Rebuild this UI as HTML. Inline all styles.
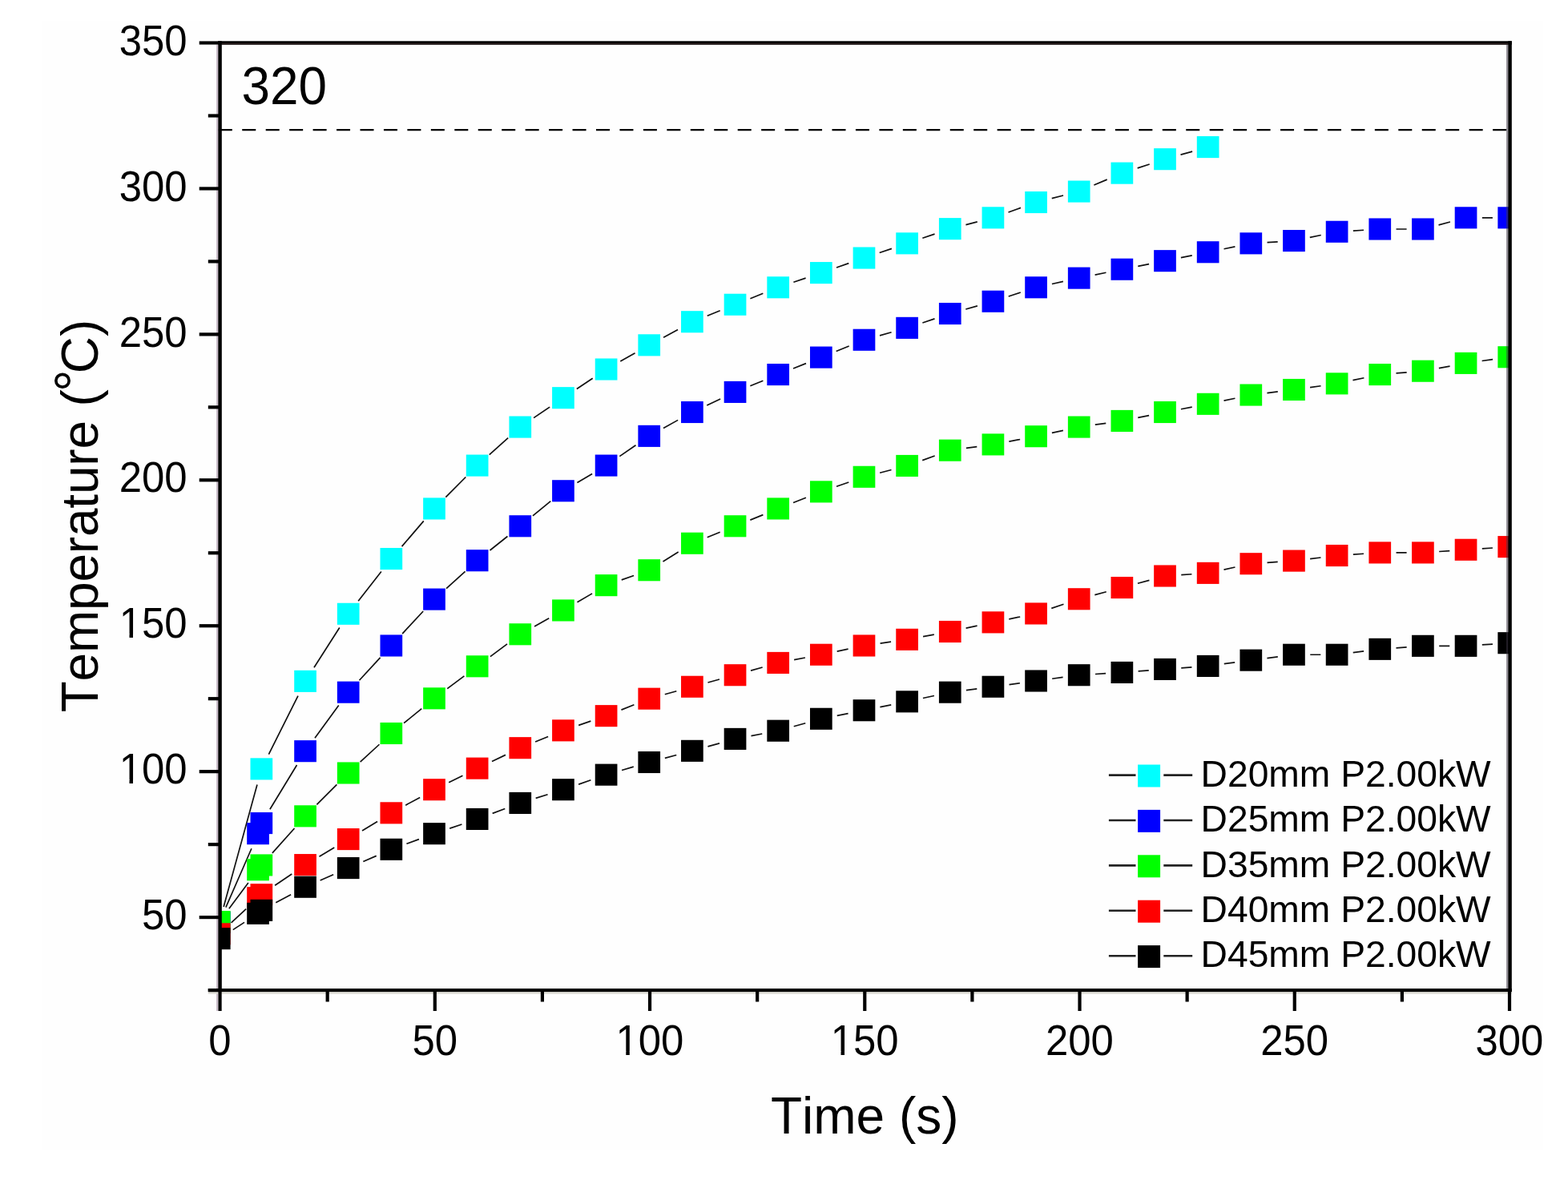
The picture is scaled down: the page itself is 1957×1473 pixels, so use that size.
<!DOCTYPE html>
<html><head><meta charset="utf-8"><title>Temperature vs Time</title>
<style>
html,body{margin:0;padding:0;background:#fff;}
body{width:1957px;height:1473px;overflow:hidden;}
svg{display:block;}
text{font-family:"Liberation Sans",Arial,Helvetica,sans-serif;fill:#000;font-kerning:none;}
</style></head><body>
<svg width="1957" height="1473" viewBox="0 0 1957 1473">
<defs>
<clipPath id="plot"><rect x="274.55" y="53.5" width="1609.95" height="1182.55"/></clipPath>
</defs>
<rect x="0" y="0" width="1957" height="1473" fill="#ffffff"/>
<rect x="53" y="26" width="1873" height="1409" fill="#fefefe"/>
<line x1="272.8" y1="162.1" x2="1882" y2="162.1" stroke="#000" stroke-width="2.2" stroke-dasharray="17 12.45"/>
<g clip-path="url(#plot)">
<path d="M279.12 1132.06L320.96 979.46M335.4 941.72L371.97 868.52M391.97 833.25L423.77 783.42M447.18 750.3L475.86 713.54M501.56 682.12L528.78 650.36M556.32 620.57L581.31 595.48M610.76 567.56L634.16 546.61M666.09 521.67L686.14 508.08M719.84 485.45L739.68 472.26M774.27 451.07L792.54 440.78M828.08 421.14L846.04 411.4M882.73 394.17L898.68 387.79M936.38 372.71L952.33 366.32M990.4 352.26L1005.6 347.11M1044.01 333.95L1059.29 328.67M1097.7 315.51L1112.9 310.36M1151.35 297.32L1166.55 292.16M1205.43 280.58L1219.76 276.88M1258.52 264.95L1273.97 259.4M1312.76 247.59L1327.03 244.01M1365.38 231.09L1381.7 224.12M1419.67 209.86L1434.71 204.96M1473.55 193.18L1488.12 189.08" stroke="#111" stroke-width="1.7" fill="none"/>
<g fill="#00ffff"><rect x="259.9" y="1138.08" width="27.7" height="27.1"/><rect x="312.48" y="946.33" width="27.7" height="27.1"/><rect x="367.2" y="836.81" width="27.7" height="27.1"/><rect x="420.84" y="752.75" width="27.7" height="27.1"/><rect x="474.49" y="683.98" width="27.7" height="27.1"/><rect x="528.14" y="621.4" width="27.7" height="27.1"/><rect x="581.79" y="567.55" width="27.7" height="27.1"/><rect x="635.44" y="519.52" width="27.7" height="27.1"/><rect x="689.09" y="483.13" width="27.7" height="27.1"/><rect x="742.74" y="447.47" width="27.7" height="27.1"/><rect x="796.38" y="417.27" width="27.7" height="27.1"/><rect x="850.03" y="388.17" width="27.7" height="27.1"/><rect x="903.68" y="366.7" width="27.7" height="27.1"/><rect x="957.33" y="345.23" width="27.7" height="27.1"/><rect x="1010.98" y="327.04" width="27.7" height="27.1"/><rect x="1064.63" y="308.48" width="27.7" height="27.1"/><rect x="1118.27" y="290.29" width="27.7" height="27.1"/><rect x="1171.92" y="272.09" width="27.7" height="27.1"/><rect x="1225.57" y="258.27" width="27.7" height="27.1"/><rect x="1279.22" y="238.98" width="27.7" height="27.1"/><rect x="1332.87" y="225.52" width="27.7" height="27.1"/><rect x="1386.52" y="202.6" width="27.7" height="27.1"/><rect x="1440.16" y="185.13" width="27.7" height="27.1"/><rect x="1493.81" y="170.03" width="27.7" height="27.1"/></g>
<path d="M281.87 1132.67L313.91 1059.26M336.88 1010.22L370.49 955.02M393.01 921.29L422.73 880.58M448.45 849.26L474.59 820.89M502.15 791.08L528.19 763M557.07 734.51L580.57 713.32M611.49 687.03L633.44 669.47M664.98 643.9L687.24 625.63M720.42 602.44L739.1 591.42M773.33 569.63L793.49 555.82M827.97 534.48L846.14 524.38M882.27 505.91L899.14 498.01M936.33 481.75L952.38 475.23M990.03 460.03L1005.98 453.65M1043.63 438.45L1059.67 431.93M1098.03 418.84L1112.57 414.8M1151.39 402.95L1166.51 397.93M1205.3 385.97L1219.9 381.81M1258.72 369.96L1273.77 365.06M1312.91 354.47L1326.88 351.44M1366.61 343.09L1380.47 340.27M1420.28 332.3L1434.09 329.59M1473.91 321.62L1487.77 318.8M1527.55 310.71L1541.42 307.88M1581.57 302.6L1594.7 301.8M1634.82 296.39L1648.74 293.46M1688.87 288.05L1701.99 287.24M1742.56 286.01L1755.6 286.01M1795.53 280.82L1809.93 277.01M1849.85 271.82L1862.9 271.82" stroke="#111" stroke-width="1.7" fill="none"/>
<g fill="#0000ff"><rect x="259.9" y="1137.72" width="27.7" height="27.1"/><rect x="308.18" y="1027.11" width="27.7" height="27.1"/><rect x="312.48" y="1014.01" width="27.7" height="27.1"/><rect x="367.2" y="924.13" width="27.7" height="27.1"/><rect x="420.84" y="850.63" width="27.7" height="27.1"/><rect x="474.49" y="792.42" width="27.7" height="27.1"/><rect x="528.14" y="734.56" width="27.7" height="27.1"/><rect x="581.79" y="686.17" width="27.7" height="27.1"/><rect x="635.44" y="643.23" width="27.7" height="27.1"/><rect x="689.09" y="599.21" width="27.7" height="27.1"/><rect x="742.74" y="567.55" width="27.7" height="27.1"/><rect x="796.38" y="530.8" width="27.7" height="27.1"/><rect x="850.03" y="500.96" width="27.7" height="27.1"/><rect x="903.68" y="475.86" width="27.7" height="27.1"/><rect x="957.33" y="454.02" width="27.7" height="27.1"/><rect x="1010.98" y="432.56" width="27.7" height="27.1"/><rect x="1064.63" y="410.72" width="27.7" height="27.1"/><rect x="1118.27" y="395.81" width="27.7" height="27.1"/><rect x="1171.92" y="377.98" width="27.7" height="27.1"/><rect x="1225.57" y="362.7" width="27.7" height="27.1"/><rect x="1279.22" y="345.23" width="27.7" height="27.1"/><rect x="1332.87" y="333.59" width="27.7" height="27.1"/><rect x="1386.52" y="322.67" width="27.7" height="27.1"/><rect x="1440.16" y="312.12" width="27.7" height="27.1"/><rect x="1493.81" y="301.2" width="27.7" height="27.1"/><rect x="1547.46" y="290.29" width="27.7" height="27.1"/><rect x="1601.11" y="287.01" width="27.7" height="27.1"/><rect x="1654.76" y="275.73" width="27.7" height="27.1"/><rect x="1708.41" y="272.46" width="27.7" height="27.1"/><rect x="1762.05" y="272.46" width="27.7" height="27.1"/><rect x="1815.7" y="258.27" width="27.7" height="27.1"/><rect x="1869.35" y="258.27" width="27.7" height="27.1"/></g>
<path d="M285.88 1134.27L309.9 1102.05M339.87 1064.83L367.51 1033.95M395.37 1004.44L420.37 979.35M449.62 951.21L473.42 929.25M504.09 902.67L526.25 884.64M558.26 859.69L579.37 843.94M611.91 819.66L633.02 803.91M667.03 781.91L685.2 771.81M720.47 751.71L739.05 740.87M775.73 723.89L791.09 718.48M827.46 700.98L846.66 689M882.73 670.71L898.68 664.32M936.33 649.13L952.38 642.6M990.07 627.52L1005.94 621.28M1044.01 607.21L1059.29 601.93M1098.13 590.22L1112.47 586.53M1151.23 574.6L1166.67 569.05M1205.89 559.45L1219.3 557.63M1259.36 551.11L1273.12 548.5M1312.91 540.41L1326.88 537.38M1366.81 530.21L1380.27 528.29M1420.26 521.38L1434.12 518.56M1473.96 510.73L1487.72 508.11M1527.53 500.15L1541.44 497.22M1581.46 490.58L1594.81 488.96M1635.06 483.63L1648.51 481.72M1688.47 474.68L1702.39 471.75M1742.49 465.93L1755.67 464.85M1795.87 459.55L1809.58 457.04M1849.65 450.52L1863.1 448.61" stroke="#111" stroke-width="1.7" fill="none"/>
<g fill="#00ff00"><rect x="259.9" y="1136.99" width="27.7" height="27.1"/><rect x="308.18" y="1072.23" width="27.7" height="27.1"/><rect x="312.48" y="1066.4" width="27.7" height="27.1"/><rect x="367.2" y="1005.27" width="27.7" height="27.1"/><rect x="420.84" y="951.42" width="27.7" height="27.1"/><rect x="474.49" y="901.94" width="27.7" height="27.1"/><rect x="528.14" y="858.27" width="27.7" height="27.1"/><rect x="581.79" y="818.25" width="27.7" height="27.1"/><rect x="635.44" y="778.23" width="27.7" height="27.1"/><rect x="689.09" y="748.39" width="27.7" height="27.1"/><rect x="742.74" y="717.1" width="27.7" height="27.1"/><rect x="796.38" y="698.18" width="27.7" height="27.1"/><rect x="850.03" y="664.7" width="27.7" height="27.1"/><rect x="903.68" y="643.23" width="27.7" height="27.1"/><rect x="957.33" y="621.4" width="27.7" height="27.1"/><rect x="1010.98" y="600.3" width="27.7" height="27.1"/><rect x="1064.63" y="581.74" width="27.7" height="27.1"/><rect x="1118.27" y="567.91" width="27.7" height="27.1"/><rect x="1171.92" y="548.63" width="27.7" height="27.1"/><rect x="1225.57" y="541.35" width="27.7" height="27.1"/><rect x="1279.22" y="531.16" width="27.7" height="27.1"/><rect x="1332.87" y="519.52" width="27.7" height="27.1"/><rect x="1386.52" y="511.88" width="27.7" height="27.1"/><rect x="1440.16" y="500.96" width="27.7" height="27.1"/><rect x="1493.81" y="490.77" width="27.7" height="27.1"/><rect x="1547.46" y="479.49" width="27.7" height="27.1"/><rect x="1601.11" y="472.95" width="27.7" height="27.1"/><rect x="1654.76" y="465.3" width="27.7" height="27.1"/><rect x="1708.41" y="454.02" width="27.7" height="27.1"/><rect x="1762.05" y="449.66" width="27.7" height="27.1"/><rect x="1815.7" y="439.83" width="27.7" height="27.1"/><rect x="1869.35" y="432.19" width="27.7" height="27.1"/></g>
<path d="M288.58 1151.96L307.2 1134.57M343.13 1105.31L364.25 1090.98M398.48 1069.19L417.26 1057.97M452.02 1036.99L471.02 1025.4M506.19 1005.14L524.15 995.39M560.18 976.71L577.45 968.16M613.98 950.45L630.95 942.39M668.09 926.03L684.13 919.5M722.16 905.33L737.36 900.18M775.43 886.11L791.39 879.73M829.79 866.75L844.32 862.71M883.47 851.95L897.94 848.03M937.05 837.15L951.65 832.99M991.12 823.65L1004.88 821.03M1044.69 813.07L1058.61 810.14M1098.57 803.1L1112.03 801.19M1152.09 794.67L1165.8 792.16M1205.61 784.19L1219.58 781.16M1259.31 772.81L1273.18 769.99M1312.29 759.42L1327.49 754.27M1366.34 742.56L1380.74 738.75M1419.96 728.24L1434.42 724.32M1474.27 717.63L1487.41 716.74M1527.5 711.06L1541.47 708.03M1581.56 702.35L1594.7 701.46M1635.11 697.62L1648.46 695.99M1688.86 692.16L1702 691.27M1742.56 689.89L1755.6 689.89M1796.16 688.52L1809.3 687.63M1849.81 684.88L1862.95 683.99" stroke="#111" stroke-width="1.7" fill="none"/>
<g fill="#ff0000"><rect x="259.9" y="1152.27" width="27.7" height="27.1"/><rect x="308.18" y="1107.16" width="27.7" height="27.1"/><rect x="312.48" y="1103.15" width="27.7" height="27.1"/><rect x="367.2" y="1066.04" width="27.7" height="27.1"/><rect x="420.84" y="1034.02" width="27.7" height="27.1"/><rect x="474.49" y="1001.27" width="27.7" height="27.1"/><rect x="528.14" y="972.16" width="27.7" height="27.1"/><rect x="581.79" y="945.6" width="27.7" height="27.1"/><rect x="635.44" y="920.13" width="27.7" height="27.1"/><rect x="689.09" y="898.3" width="27.7" height="27.1"/><rect x="742.74" y="880.11" width="27.7" height="27.1"/><rect x="796.38" y="858.64" width="27.7" height="27.1"/><rect x="850.03" y="843.72" width="27.7" height="27.1"/><rect x="903.68" y="829.17" width="27.7" height="27.1"/><rect x="957.33" y="813.88" width="27.7" height="27.1"/><rect x="1010.98" y="803.7" width="27.7" height="27.1"/><rect x="1064.63" y="792.42" width="27.7" height="27.1"/><rect x="1118.27" y="784.77" width="27.7" height="27.1"/><rect x="1171.92" y="774.95" width="27.7" height="27.1"/><rect x="1225.57" y="763.31" width="27.7" height="27.1"/><rect x="1279.22" y="752.39" width="27.7" height="27.1"/><rect x="1332.87" y="734.2" width="27.7" height="27.1"/><rect x="1386.52" y="720.01" width="27.7" height="27.1"/><rect x="1440.16" y="705.45" width="27.7" height="27.1"/><rect x="1493.81" y="701.81" width="27.7" height="27.1"/><rect x="1547.46" y="690.17" width="27.7" height="27.1"/><rect x="1601.11" y="686.53" width="27.7" height="27.1"/><rect x="1654.76" y="679.98" width="27.7" height="27.1"/><rect x="1708.41" y="676.34" width="27.7" height="27.1"/><rect x="1762.05" y="676.34" width="27.7" height="27.1"/><rect x="1815.7" y="672.71" width="27.7" height="27.1"/><rect x="1869.35" y="669.07" width="27.7" height="27.1"/></g>
<path d="M290.79 1160.61L305 1151.39M344.25 1126.82L363.12 1116.78M399.62 1099.05L416.12 1091.78M453.32 1075.51L469.72 1068.39M507.41 1053.32L522.93 1047.64M561.22 1034.14L576.42 1028.98M614.66 1015.37L630.27 1009.55M668.67 996.4L683.56 991.76M722.12 979.08L737.4 973.79M776.07 961.47L790.75 957.19M829.86 946.32L844.26 942.51M883.44 931.88L897.97 927.84M937.47 918.61L951.23 916M990.74 906.77L1005.27 902.73M1044.75 893.38L1058.56 890.66M1098.37 882.7L1112.23 879.87M1151.96 871.52L1165.93 868.49M1205.91 861.59L1219.29 859.86M1259.54 854.54L1272.95 852.72M1313.18 847.26L1326.6 845.44M1366.98 841.48L1380.1 840.68M1420.61 837.93L1433.77 836.95M1474.26 833.93L1487.42 832.95M1527.78 828.71L1541.19 826.89M1581.44 821.56L1594.82 819.84M1635.26 817.25L1648.31 817.25M1688.74 814.65L1702.12 812.93M1742.5 808.82L1755.66 807.84M1796.2 806.33L1809.25 806.33M1849.81 804.96L1862.95 804.06" stroke="#111" stroke-width="1.7" fill="none"/>
<g fill="#000000"><rect x="259.9" y="1158.1" width="27.7" height="27.1"/><rect x="308.18" y="1126.8" width="27.7" height="27.1"/><rect x="312.48" y="1122.8" width="27.7" height="27.1"/><rect x="367.2" y="1093.69" width="27.7" height="27.1"/><rect x="420.84" y="1070.04" width="27.7" height="27.1"/><rect x="474.49" y="1046.75" width="27.7" height="27.1"/><rect x="528.14" y="1027.11" width="27.7" height="27.1"/><rect x="581.79" y="1008.91" width="27.7" height="27.1"/><rect x="635.44" y="988.9" width="27.7" height="27.1"/><rect x="689.09" y="972.16" width="27.7" height="27.1"/><rect x="742.74" y="953.61" width="27.7" height="27.1"/><rect x="796.38" y="937.96" width="27.7" height="27.1"/><rect x="850.03" y="923.77" width="27.7" height="27.1"/><rect x="903.68" y="908.85" width="27.7" height="27.1"/><rect x="957.33" y="898.66" width="27.7" height="27.1"/><rect x="1010.98" y="883.74" width="27.7" height="27.1"/><rect x="1064.63" y="873.19" width="27.7" height="27.1"/><rect x="1118.27" y="862.28" width="27.7" height="27.1"/><rect x="1171.92" y="850.63" width="27.7" height="27.1"/><rect x="1225.57" y="843.72" width="27.7" height="27.1"/><rect x="1279.22" y="836.44" width="27.7" height="27.1"/><rect x="1332.87" y="829.17" width="27.7" height="27.1"/><rect x="1386.52" y="825.89" width="27.7" height="27.1"/><rect x="1440.16" y="821.89" width="27.7" height="27.1"/><rect x="1493.81" y="817.89" width="27.7" height="27.1"/><rect x="1547.46" y="810.61" width="27.7" height="27.1"/><rect x="1601.11" y="803.7" width="27.7" height="27.1"/><rect x="1654.76" y="803.7" width="27.7" height="27.1"/><rect x="1708.41" y="796.78" width="27.7" height="27.1"/><rect x="1762.05" y="792.78" width="27.7" height="27.1"/><rect x="1815.7" y="792.78" width="27.7" height="27.1"/><rect x="1869.35" y="789.14" width="27.7" height="27.1"/></g>
</g>
<rect x="270" y="55.7" width="2.3" height="1206.2" fill="#c9bcc9"/>
<rect x="259.8" y="1238.1" width="1627" height="2.6" fill="#dddcd5"/>
<rect x="1880" y="55.7" width="2.4" height="1178.3" fill="#3c3444" opacity="0.55"/>
<g fill="#000">
<rect x="272.3" y="51.3" width="1614.5" height="4.4"/>
<rect x="259.8" y="1234" width="1627" height="4.1"/>
<rect x="272.3" y="51.3" width="4.5" height="1186.8"/>
<rect x="1882.3" y="51.3" width="4.5" height="1186.8"/>
</g>
<rect x="276.8" y="53.6" width="1605.5" height="2.1" fill="#2a1e1e"/>
<g stroke="#000" stroke-width="4.2" fill="none">
<line x1="248.7" y1="1145.08" x2="274.55" y2="1145.08"/>
<line x1="248.7" y1="963.15" x2="274.55" y2="963.15"/>
<line x1="248.7" y1="781.22" x2="274.55" y2="781.22"/>
<line x1="248.7" y1="599.29" x2="274.55" y2="599.29"/>
<line x1="248.7" y1="417.36" x2="274.55" y2="417.36"/>
<line x1="248.7" y1="235.43" x2="274.55" y2="235.43"/>
<line x1="248.7" y1="53.5" x2="274.55" y2="53.5"/>
<line x1="259.8" y1="1236.05" x2="274.55" y2="1236.05"/>
<line x1="259.8" y1="1054.12" x2="274.55" y2="1054.12"/>
<line x1="259.8" y1="872.19" x2="274.55" y2="872.19"/>
<line x1="259.8" y1="690.26" x2="274.55" y2="690.26"/>
<line x1="259.8" y1="508.33" x2="274.55" y2="508.33"/>
<line x1="259.8" y1="326.4" x2="274.55" y2="326.4"/>
<line x1="259.8" y1="144.47" x2="274.55" y2="144.47"/>
<line x1="274.55" y1="1236.05" x2="274.55" y2="1262"/>
<line x1="542.79" y1="1236.05" x2="542.79" y2="1262"/>
<line x1="811.03" y1="1236.05" x2="811.03" y2="1262"/>
<line x1="1079.28" y1="1236.05" x2="1079.28" y2="1262"/>
<line x1="1347.52" y1="1236.05" x2="1347.52" y2="1262"/>
<line x1="1615.76" y1="1236.05" x2="1615.76" y2="1262"/>
<line x1="1884" y1="1236.05" x2="1884" y2="1262"/>
<line x1="408.67" y1="1236.05" x2="408.67" y2="1250.5"/>
<line x1="676.91" y1="1236.05" x2="676.91" y2="1250.5"/>
<line x1="945.15" y1="1236.05" x2="945.15" y2="1250.5"/>
<line x1="1213.4" y1="1236.05" x2="1213.4" y2="1250.5"/>
<line x1="1481.64" y1="1236.05" x2="1481.64" y2="1250.5"/>
<line x1="1749.88" y1="1236.05" x2="1749.88" y2="1250.5"/>
</g>
<g font-size="53">
<g transform="translate(233.6 1160.28) scale(0.96 1)"><text text-anchor="end">50</text></g>
<g transform="translate(233.6 978.35) scale(0.96 1)"><text text-anchor="end">100</text><rect x="-85.19" y="-5.06" width="10.09" height="6.06" fill="#fefefe"/><rect x="-70.42" y="-5.06" width="9.68" height="6.06" fill="#fefefe"/></g>
<g transform="translate(233.6 796.42) scale(0.96 1)"><text text-anchor="end">150</text><rect x="-85.19" y="-5.06" width="10.09" height="6.06" fill="#fefefe"/><rect x="-70.42" y="-5.06" width="9.68" height="6.06" fill="#fefefe"/></g>
<g transform="translate(233.6 614.49) scale(0.96 1)"><text text-anchor="end">200</text></g>
<g transform="translate(233.6 432.56) scale(0.96 1)"><text text-anchor="end">250</text></g>
<g transform="translate(233.6 250.63) scale(0.96 1)"><text text-anchor="end">300</text></g>
<g transform="translate(233.6 68.7) scale(0.96 1)"><text text-anchor="end">350</text></g>
<g transform="translate(274.45 1317.4) scale(0.96 1)"><text text-anchor="middle">0</text></g>
<g transform="translate(542.69 1317.4) scale(0.96 1)"><text text-anchor="middle">50</text></g>
<g transform="translate(810.93 1317.4) scale(0.96 1)"><text text-anchor="middle">100</text><rect x="-40.98" y="-5.06" width="10.09" height="6.06" fill="#fefefe"/><rect x="-26.2" y="-5.06" width="9.68" height="6.06" fill="#fefefe"/></g>
<g transform="translate(1079.18 1317.4) scale(0.96 1)"><text text-anchor="middle">150</text><rect x="-40.98" y="-5.06" width="10.09" height="6.06" fill="#fefefe"/><rect x="-26.2" y="-5.06" width="9.68" height="6.06" fill="#fefefe"/></g>
<g transform="translate(1347.42 1317.4) scale(0.96 1)"><text text-anchor="middle">200</text></g>
<g transform="translate(1615.66 1317.4) scale(0.96 1)"><text text-anchor="middle">250</text></g>
<g transform="translate(1883.9 1317.4) scale(0.96 1)"><text text-anchor="middle">300</text></g>
</g>
<text transform="translate(301.5 130.2) scale(0.96 1)" font-size="66.5">320</text>
<text x="1079.3" y="1415" font-size="64" text-anchor="middle">Time (s)</text>
<text transform="translate(121.6 889.3) rotate(-90) scale(1 1.025)" font-size="64"><tspan letter-spacing="-0.2">Temperature (</tspan><tspan x="400.1" dy="-3.4" font-size="70">°</tspan><tspan x="423.1" dy="3.4">C)</tspan></text>
<line x1="1383.9" y1="967.6" x2="1417.5" y2="967.6" stroke="#222" stroke-width="2.6"/>
<line x1="1452.3" y1="967.6" x2="1488.2" y2="967.6" stroke="#222" stroke-width="2.6"/>
<rect x="1420.1" y="954.5" width="28" height="28" fill="#00ffff"/>
<text transform="translate(1498.6 981.8) scale(1.075 1.06)" font-size="43">D20mm P2.00kW</text>
<line x1="1383.9" y1="1024" x2="1417.5" y2="1024" stroke="#222" stroke-width="2.6"/>
<line x1="1452.3" y1="1024" x2="1488.2" y2="1024" stroke="#222" stroke-width="2.6"/>
<rect x="1420.1" y="1010.9" width="28" height="28" fill="#0000ff"/>
<text transform="translate(1498.6 1038.2) scale(1.075 1.06)" font-size="43">D25mm P2.00kW</text>
<line x1="1383.9" y1="1080.4" x2="1417.5" y2="1080.4" stroke="#222" stroke-width="2.6"/>
<line x1="1452.3" y1="1080.4" x2="1488.2" y2="1080.4" stroke="#222" stroke-width="2.6"/>
<rect x="1420.1" y="1067.3" width="28" height="28" fill="#00ff00"/>
<text transform="translate(1498.6 1094.6) scale(1.075 1.06)" font-size="43">D35mm P2.00kW</text>
<line x1="1383.9" y1="1136.8" x2="1417.5" y2="1136.8" stroke="#222" stroke-width="2.6"/>
<line x1="1452.3" y1="1136.8" x2="1488.2" y2="1136.8" stroke="#222" stroke-width="2.6"/>
<rect x="1420.1" y="1123.7" width="28" height="28" fill="#ff0000"/>
<text transform="translate(1498.6 1151) scale(1.075 1.06)" font-size="43">D40mm P2.00kW</text>
<line x1="1383.9" y1="1193.2" x2="1417.5" y2="1193.2" stroke="#222" stroke-width="2.6"/>
<line x1="1452.3" y1="1193.2" x2="1488.2" y2="1193.2" stroke="#222" stroke-width="2.6"/>
<rect x="1420.1" y="1180.1" width="28" height="28" fill="#000000"/>
<text transform="translate(1498.6 1207.4) scale(1.075 1.06)" font-size="43">D45mm P2.00kW</text>
</svg>
</body></html>
